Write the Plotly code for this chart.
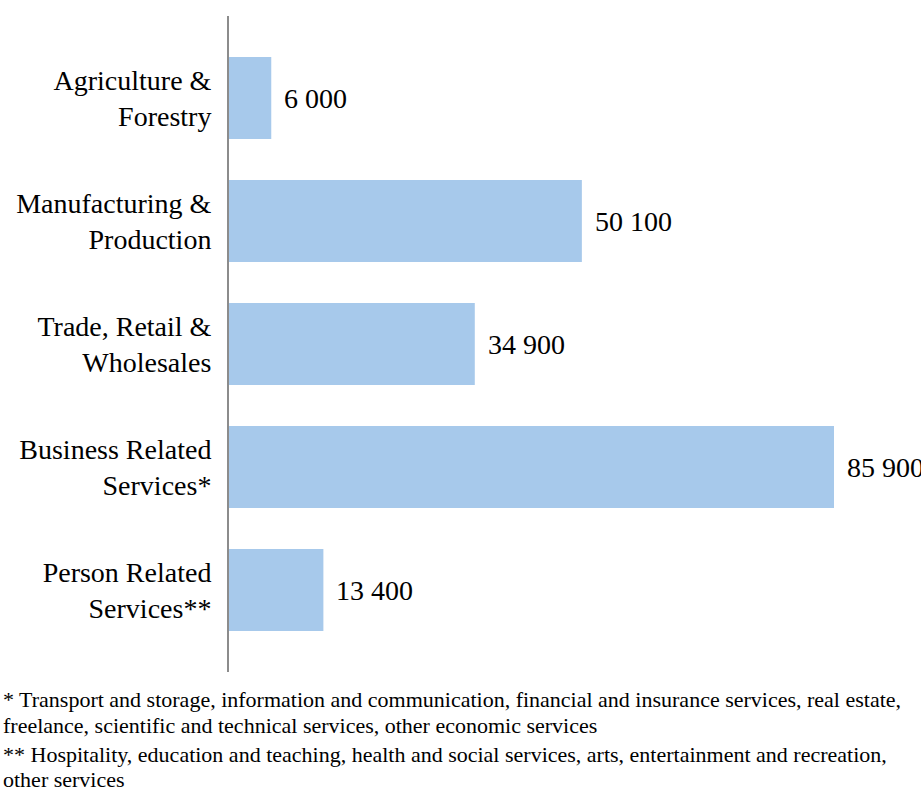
import plotly.graph_objects as go

categories = [
    "Agriculture &<br>Forestry",
    "Manufacturing &<br>Production",
    "Trade, Retail &<br>Wholesales",
    "Business Related<br>Services*",
    "Person Related<br>Services**",
]
values = [6000, 50100, 34900, 85900, 13400]
value_labels = ["6 000", "50 100", "34 900", "85 900", "13 400"]
footnote_lines = [
    "* Transport and storage, information and communication, financial and insurance services, real estate,",
    "freelance, scientific and technical services, other economic services",
    "** Hospitality, education and teaching, health and social services, arts, entertainment and recreation,",
    "other services",
]

W, H = 921, 799
ML, MR, MT, MB = 229, 0, 16, 127
plot_w = W - ML - MR
plot_h = H - MT - MB

FONT = "Liberation Serif"

fig = go.Figure()
fig.add_trace(go.Bar(
    x=values, y=categories, orientation="h",
    marker=dict(color="#A7C9EB", line=dict(width=0)),
    width=0.667, hoverinfo="skip",
))

for v, c, lab in zip(values, categories, value_labels):
    fig.add_annotation(x=v, y=c, xref="x", yref="y", text=lab, showarrow=False,
                       xanchor="left", yanchor="middle", xshift=11,
                       font=dict(family=FONT, size=28, color="black"))

line_centers = [699, 725, 754, 779]
for txt, yc in zip(footnote_lines, line_centers):
    fig.add_annotation(xref="paper", yref="paper", x=(1 - ML) / plot_w,
                       y=(H - MB - yc) / plot_h,
                       xanchor="left", yanchor="middle", align="left", showarrow=False,
                       text=txt, font=dict(family=FONT, size=22, color="black"))

fig.update_layout(
    width=W, height=H,
    margin=dict(l=ML, r=MR, t=MT, b=MB, pad=0),
    paper_bgcolor="white", plot_bgcolor="white",
    showlegend=False,
    font=dict(family=FONT, size=28, color="black"),
    xaxis=dict(range=[0, 85900 * plot_w / 605], visible=False, showgrid=False, zeroline=False),
    yaxis=dict(
        type="category",
        range=[4.6667, -0.6667],
        showline=True, linecolor="#8c8c8c", linewidth=2,
        showgrid=False, zeroline=False, ticks="",
        ticklabelstandoff=10,
        tickfont=dict(family=FONT, size=28, color="black"),
    ),
)

fig.write_html("out.html")
